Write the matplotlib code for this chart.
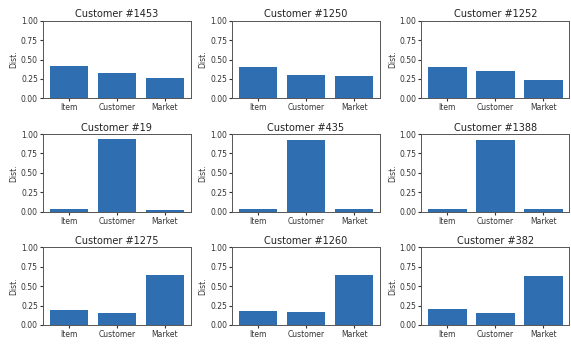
import numpy as np
import matplotlib.pyplot as plt

# share of each source in the distribution, one row per customer
labels = ["Item", "Customer", "Market"]
customers = ["1453", "1250", "1252", "19", "435", "1388", "1275", "1260", "382"]
dist_1453 = [0.41, 0.33, 0.26]
dist_1250 = [0.40, 0.30, 0.29]
dist_1252 = [0.40, 0.35, 0.24]
dist_19 = [0.03, 0.94, 0.02]
dist_435 = [0.04, 0.92, 0.03]
dist_1388 = [0.04, 0.92, 0.03]
dist_1275 = [0.19, 0.16, 0.65]
dist_1260 = [0.18, 0.17, 0.64]
dist_382 = [0.20, 0.16, 0.63]
dists = [dist_1453, dist_1250, dist_1252, dist_19, dist_435, dist_1388,
         dist_1275, dist_1260, dist_382]

fig, axes = plt.subplots(3, 3, figsize=(5.71, 3.45), dpi=100)
plt.subplots_adjust(left=0.075, right=0.997, top=0.94, bottom=0.058,
                    wspace=0.28, hspace=0.46)

x = np.arange(len(labels))
for ax, cust, d in zip(axes.flat, customers, dists):
    ax.bar(x, d, color="#2f6eb1", width=0.8)
    ax.set_ylim(0, 1)
    ax.set_yticks([0, 0.25, 0.5, 0.75, 1.0])
    ax.set_yticklabels(["0.00", "0.25", "0.50", "0.75", "1.00"])
    ax.set_xticks(x)
    ax.set_xticklabels(labels)
    ax.tick_params(labelsize=5.5, length=2, pad=1.5, colors="#333333")
    ax.set_ylabel("Dist.", fontsize=5.5, labelpad=2, color="#333333")
    ax.set_title("Customer #" + cust, fontsize=7, pad=2.5, color="#222222")
    for s in ax.spines.values():
        s.set_color("#555555")
        s.set_linewidth(0.7)

plt.savefig("out.png")
plt.close()
